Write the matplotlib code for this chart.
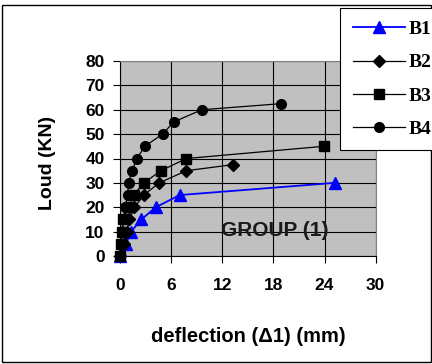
import matplotlib
matplotlib.use("Agg")
import matplotlib.pyplot as plt
from matplotlib.patches import Rectangle
from matplotlib.lines import Line2D

# Data (deflection mm, load kN)
b1_x = [0, 0.7, 1.3, 2.5, 4.2, 7.0, 25.2]
b1_y = [0, 5, 10, 15, 20, 25, 30]
b2_x = [0, 0.45, 0.8, 1.1, 1.7, 2.8, 4.6, 7.8, 13.3]
b2_y = [0, 5, 10, 15, 20, 25, 30, 35, 37.5]
b3_x = [0, 0.1, 0.2, 0.4, 1.0, 1.6, 2.8, 4.8, 7.8, 23.9]
b3_y = [0, 5, 10, 15, 20, 25, 30, 35, 40, 45]
b4_x = [0, 0.1, 0.3, 0.4, 0.6, 0.9, 1.0, 1.4, 2.0, 2.9, 5.0, 6.3, 9.6, 18.9]
b4_y = [0, 5, 10, 15, 20, 25, 30, 35, 40, 45, 50, 55, 60, 62.5]
x_ticks = [0, 6, 12, 18, 24, 30]
y_ticks = [0, 10, 20, 30, 40, 50, 60, 70, 80]
labels = ["B1", "B2", "B3", "B4"]

fig = plt.figure(figsize=(4.32, 3.64), dpi=100)
fig.patch.set_facecolor("white")
fig.add_artist(Rectangle((2/432, 2/364), 429/432, 357/364, transform=fig.transFigure,
                         fill=False, edgecolor="black", linewidth=1.0))

ax = fig.add_axes([120/432, 1 - 256/364, 255.7/432, 195/364])
ax.set_facecolor("#C0C0C0")
ax.set_xlim(0, 30)
ax.set_ylim(0, 80)
ax.set_xticks(x_ticks)
ax.set_yticks(y_ticks)
ax.grid(True, color="black", linewidth=0.8)
ax.set_axisbelow(True)
for s in ["top", "right"]:
    ax.spines[s].set_color("#808080")
for s in ["left", "bottom"]:
    ax.spines[s].set_color("black")
ax.tick_params(direction="out", length=5, width=0.8, color="black")
ax.tick_params(axis="x", pad=11)
ax.tick_params(axis="y", pad=6)
for lab in ax.get_xticklabels() + ax.get_yticklabels():
    lab.set_fontfamily("Liberation Sans")
    lab.set_fontweight("bold")
    lab.set_fontsize(12.5)

ax.plot(b1_x, b1_y, color="blue", linewidth=1.3, marker="^", markersize=8,
        markerfacecolor="blue", markeredgecolor="blue", clip_on=False, zorder=3)
ax.plot(b2_x, b2_y, color="black", linewidth=0.9, marker="D", markersize=6,
        markerfacecolor="black", clip_on=False, zorder=3)
ax.plot(b3_x, b3_y, color="black", linewidth=0.9, marker="s", markersize=6.5,
        markerfacecolor="black", clip_on=False, zorder=3)
ax.plot(b4_x, b4_y, color="black", linewidth=0.9, marker="o", markersize=7,
        markerfacecolor="black", clip_on=False, zorder=3)

ax.text(18.2, 10.5, "GROUP (1)", ha="center", va="center", fontsize=15,
        fontweight="bold", family="Liberation Sans", color="#1a1a1a")

ax.set_ylabel("Loud (KN)", fontsize=14, fontweight="bold", family="Liberation Sans")
ax.yaxis.set_label_coords((47 - 120) / 255.7, (256 - 162.5) / 195)
ax.yaxis.label.set_va("center")
ax.set_xlabel("deflection (\u03941) (mm)", fontsize=14.5, fontweight="bold",
              family="Liberation Sans")
ax.xaxis.set_label_coords(0.5, (256 - 337) / 195)
ax.xaxis.label.set_va("center")

handles = [
    Line2D([], [], color="blue", linewidth=1.3, marker="^", markersize=8),
    Line2D([], [], color="black", linewidth=0.9, marker="D", markersize=6),
    Line2D([], [], color="black", linewidth=0.9, marker="s", markersize=6.5),
    Line2D([], [], color="black", linewidth=0.9, marker="o", markersize=7),
]
leg = fig.legend(handles, labels, loc="upper left", bbox_to_anchor=(340/432, 1 - 8/364),
                 frameon=True, fancybox=False, edgecolor="black", framealpha=1,
                 prop={"family": "Liberation Serif", "weight": "bold", "size": 14},
                 handlelength=2.7, labelspacing=0.8, borderpad=0.65, handletextpad=0.2,
                 borderaxespad=0)
leg.get_frame().set_linewidth(0.8)

fig.savefig("out.png", dpi=100)
